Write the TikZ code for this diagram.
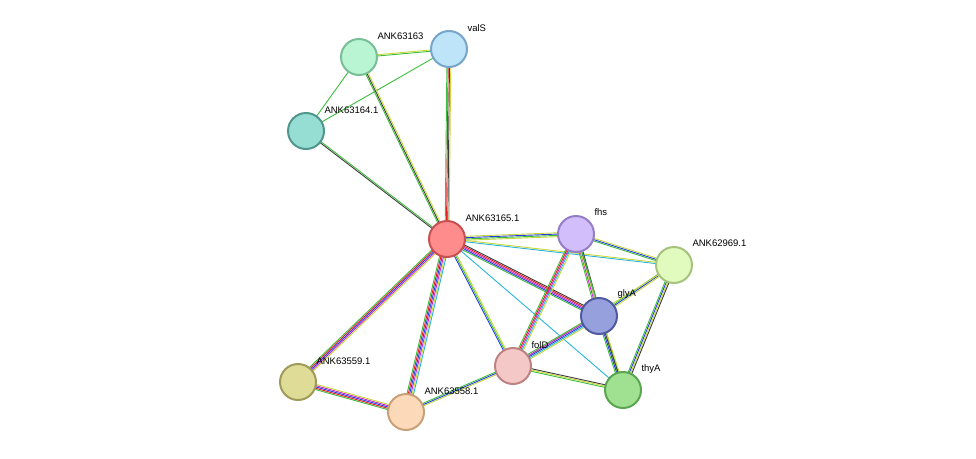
\documentclass[tikz,border=0pt]{standalone}
\usepackage{fontspec}
\setmainfont{Liberation Sans}
\usetikzlibrary{calc,backgrounds}
\definecolor{G}{RGB}{60,190,60}
\definecolor{Y}{RGB}{200,215,60}
\definecolor{B}{RGB}{40,60,230}
\definecolor{R}{RGB}{230,30,30}
\definecolor{M}{RGB}{200,40,200}
\definecolor{C}{RGB}{40,180,220}
\definecolor{K}{RGB}{60,60,60}
\tikzset{
 prot/.style={circle,minimum size=36pt,inner sep=0pt,line width=2pt},
 lab/.style={anchor=west,font=\fontsize{9.5}{10}\selectfont},
}
\newcommand\edge[4]{%
 \foreach \cc [count=\i] in {#4}{%
  \pgfmathsetmacro\oo{(\i-(#3+1)/2)*1.3}%
  \draw[\cc,line width=0.9pt] ($(#1)!\oo pt!90:(#2)$) -- ($(#2)!\oo pt!-90:(#1)$);
 }}
\begin{document}
\begin{tikzpicture}[x=1pt,y=-1pt]
\useasboundingbox (0,0) rectangle (976,458);
\node[prot,fill={rgb,255:red,185;green,245;blue,210},draw={rgb,255:red,120;green,190;blue,150}] (a) at (359,57) {};
\node[prot,fill={rgb,255:red,190;green,228;blue,250},draw={rgb,255:red,120;green,165;blue,200}] (v) at (449,49) {};
\node[prot,fill={rgb,255:red,150;green,222;blue,212},draw={rgb,255:red,80;green,150;blue,140}] (b) at (306,131) {};
\node[prot,fill={rgb,255:red,255;green,140;blue,140},draw={rgb,255:red,200;green,80;blue,80}] (c) at (447,239) {};
\node[prot,fill={rgb,255:red,210;green,190;blue,250},draw={rgb,255:red,150;green,125;blue,200}] (f) at (576,234) {};
\node[prot,fill={rgb,255:red,225;green,250;blue,190},draw={rgb,255:red,165;green,195;blue,125}] (e) at (674,265) {};
\node[prot,fill={rgb,255:red,150;green,160;blue,220},draw={rgb,255:red,80;green,90;blue,160}] (g) at (599,316) {};
\node[prot,fill={rgb,255:red,245;green,200;blue,200},draw={rgb,255:red,190;green,130;blue,130}] (d) at (513,366) {};
\node[prot,fill={rgb,255:red,160;green,225;blue,145},draw={rgb,255:red,90;green,165;blue,80}] (t) at (623,390) {};
\node[prot,fill={rgb,255:red,222;green,220;blue,150},draw={rgb,255:red,160;green,155;blue,90}] (p) at (298,382) {};
\node[prot,fill={rgb,255:red,252;green,218;blue,185},draw={rgb,255:red,200;green,160;blue,120}] (q) at (406,412) {};
\begin{scope}[on background layer]
\edge{a}{v}{2}{G,Y}
\edge{a}{b}{1}{G}
\edge{v}{b}{1}{G}
\edge{a}{c}{3}{G,K,Y}
\edge{v}{c}{4}{G,R,K,Y}
\edge{b}{c}{2}{K,G}
\edge{c}{f}{4}{Y,G,B,Y}
\edge{c}{e}{2}{C,Y}
\edge{c}{g}{5}{G,B,M,R,K}
\edge{c}{d}{3}{B,G,Y}
\edge{c}{t}{1}{C}
\edge{c}{p}{5}{G,R,B,M,Y}
\edge{c}{q}{6}{G,R,B,M,Y,C}
\edge{p}{q}{5}{G,R,B,M,Y}
\edge{q}{d}{3}{Y,B,G}
\edge{f}{e}{3}{G,B,Y}
\edge{f}{g}{4}{G,M,B,K}
\edge{f}{d}{5}{G,R,M,C,Y}
\edge{f}{t}{2}{Y,G}
\edge{e}{g}{3}{G,B,Y}
\edge{e}{t}{4}{G,B,Y,K}
\edge{e}{d}{1}{Y}
\edge{g}{d}{5}{G,M,B,C,Y}
\edge{g}{t}{4}{G,B,K,Y}
\edge{d}{t}{3}{G,Y,K}
\end{scope}
\node[lab] (la) at (374,36) {ANK63163};
\node[lab] (lv) at (464,28) {valS};
\node[lab] (lb) at (321,110) {ANK63164.1};
\node[lab] (lc) at (462,218) {ANK63165.1};
\node[lab] (lf) at (591,212) {fhs};
\node[lab] (le) at (689,243) {ANK62969.1};
\node[lab] (lg) at (614,294) {glyA};
\node[lab] (ld) at (528,345) {folD};
\node[lab] (lt) at (638,369) {thyA};
\node[lab] (lp) at (313,361) {ANK63559.1};
\node[lab] (lq) at (421,391) {ANK63558.1};
\end{tikzpicture}
\end{document}
